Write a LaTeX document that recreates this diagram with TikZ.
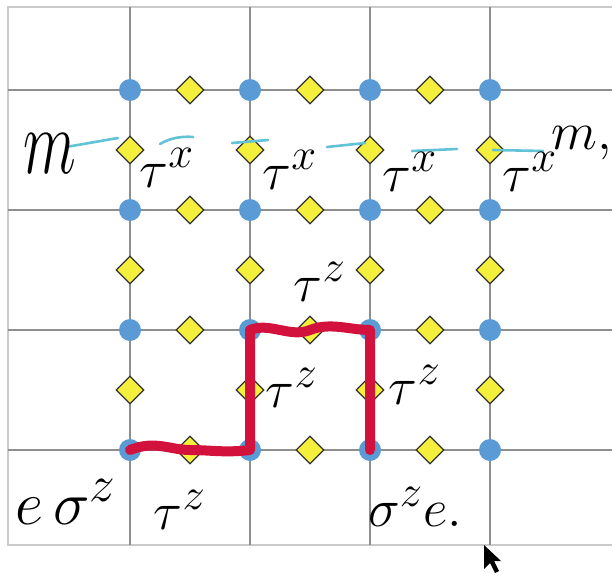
\documentclass[tikz,border=0pt]{standalone}
\usepackage{amsmath}
\usetikzlibrary{shapes.geometric}

\definecolor{dotblue}{HTML}{5B9BD5}
\definecolor{diayellow}{HTML}{F4EE3C}
\definecolor{gridgray}{HTML}{8E8E8E}
\definecolor{framegray}{HTML}{CACACA}
\definecolor{pathred}{HTML}{D2123C}
\definecolor{markcyan}{HTML}{62C2D6}

\tikzset{
	site/.style={circle, fill=dotblue, minimum size=22pt, inner sep=0},
	spin/.style={diamond, draw=black!80, fill=diayellow, line width=1.3pt, minimum size=28pt, inner sep=0},
	hand/.style={font=\Huge, scale=2.15, inner sep=0},
	redstring/.style={pathred, line width=10pt, line cap=round, line join=round},
	cyanmark/.style={markcyan, line width=2.6pt, line cap=round},
	gridline/.style={gridgray, line width=1.6pt}
}

\begin{document}
\begin{tikzpicture}[x=1pt,y=-1pt]
	\useasboundingbox (0,0) rectangle (612,572);
	\fill[white] (0,0) rectangle (612,572);
	
	% frame and lattice
	\draw[framegray, line width=1.6pt] (612,7) -- (8,7) -- (8,545) -- (612,545);
	\foreach \x in {130,250,370,490}
		\draw[gridline] (\x,7) -- (\x,545);
	\foreach \y in {90,210,330,450}
		\draw[gridline] (8,\y) -- (612,\y);
	
	% vertices
	\foreach \i/\x in {1/130,2/250,3/370,4/490}
		\foreach \j/\y in {1/90,2/210,3/330,4/450}
			\node [site] (v-\i-\j) at (\x,\y) {};
	
	% spins on the links
	\foreach \i/\x in {1/190,2/310,3/430}
		\foreach \j/\y in {1/90,2/210,3/330,4/450}
			\node [spin] (h-\i-\j) at (\x,\y) {};
	\foreach \i/\x in {1/130,2/250,3/370,4/490}
		\foreach \j/\y in {1/150,2/270,3/390}
			\node [spin] (u-\i-\j) at (\x,\y) {};
	
	% string of tau^z
	\draw[redstring] (v-1-4.center) .. controls +(25,-10) and +(-20,0) .. (h-1-4.center)
		.. controls +(20,0) and +(-25,3) .. (v-2-4.center)
		-- (v-2-3.center)
		.. controls +(20,-8) and +(-20,8) .. (h-2-3.center)
		.. controls +(20,-8) and +(-20,0) .. (v-3-3.center)
		-- (v-3-4.center);
	
	% cyan strokes over the top row
	\draw[cyanmark] (66,147) -- (118,138);
	\draw[cyanmark] (160,144) .. controls (170,138) and (182,136) .. (193,137);
	\draw[cyanmark] (232,143) -- (268,140);
	\draw[cyanmark] (327,147) -- (365,143);
	\draw[cyanmark] (412,151) -- (457,149);
	\draw[cyanmark] (493,150) -- (543,151);
	
	% labels
	\node [hand, scale=1.15, yscale=1.5] (m-left) at (50,154) {$m$};
	\node [hand] (tx-1) at (167,168) {$\tau^x$};
	\node [hand] (tx-2) at (290,170) {$\tau^x$};
	\node [hand] (tx-3) at (410,172) {$\tau^x$};
	\node [hand] (tx-4) at (530,172) {$\tau^x$};
	\node [hand] (m-right) at (582,143) {$m,$};
	
	\node [hand] (tz-top) at (320,282) {$\tau^z$};
	\node [hand] (tz-left) at (292,388) {$\tau^z$};
	\node [hand] (tz-right) at (415,385) {$\tau^z$};
	\node [hand] (tz-bottom) at (180,510) {$\tau^z$};
	
	\node [hand, scale=1.15] (e-left) at (66,502) {$e\,\sigma^z$};
	\node [hand] (e-right) at (415,507) {$\sigma^z e.$};
	
	% pointer
	\fill[black] (484,545) -- (484,569) -- (490,563) -- (495,573) -- (499,571) -- (494,561) -- (501,561) -- cycle;
\end{tikzpicture}
\end{document}
